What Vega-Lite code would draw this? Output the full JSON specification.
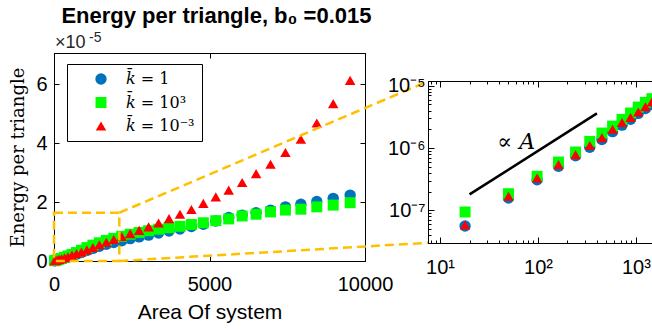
{
  "$schema": "https://vega.github.io/schema/vega-lite/v6.json",
  "autosize": {"type": "pad"},
  "padding": {"left": 9, "top": 4, "right": 0, "bottom": 0},
  "background": "white",
  "title": {"text": "Energy per triangle, b₀ =0.015", "font": "Liberation Sans", "fontSize": 22, "fontWeight": "bold", "anchor": "start", "dx": 52, "color": "black", "offset": 3},
  "config": {
    "font": "Liberation Sans",
    "view": {"stroke": "black", "strokeWidth": 1},
    "axis": {"grid": false, "domainColor": "black", "tickColor": "black", "labelColor": "black", "titleColor": "black", "labelFont": "Liberation Sans", "labelFontSize": 20, "tickSize": -5, "titleFontWeight": "normal", "labelFlush": false, "labelOverlap": false}
  },
  "datasets": {
    "pts": [
      {"A": 18, "E": 0.0056, "s": "𝑘̄ = 1"}, {"A": 50, "E": 0.0158, "s": "𝑘̄ = 1"}, {"A": 98, "E": 0.031, "s": "𝑘̄ = 1"}, {"A": 162, "E": 0.051, "s": "𝑘̄ = 1"}, {"A": 242, "E": 0.075, "s": "𝑘̄ = 1"}, {"A": 338, "E": 0.103, "s": "𝑘̄ = 1"}, {"A": 450, "E": 0.137, "s": "𝑘̄ = 1"}, {"A": 578, "E": 0.183, "s": "𝑘̄ = 1"}, {"A": 722, "E": 0.233, "s": "𝑘̄ = 1"}, {"A": 882, "E": 0.29, "s": "𝑘̄ = 1"}, {"A": 1058, "E": 0.36, "s": "𝑘̄ = 1"}, {"A": 1250, "E": 0.43, "s": "𝑘̄ = 1"}, {"A": 1458, "E": 0.5, "s": "𝑘̄ = 1"}, {"A": 1682, "E": 0.57, "s": "𝑘̄ = 1"}, {"A": 1922, "E": 0.63, "s": "𝑘̄ = 1"}, {"A": 2178, "E": 0.69, "s": "𝑘̄ = 1"}, {"A": 2450, "E": 0.76, "s": "𝑘̄ = 1"}, {"A": 2738, "E": 0.82, "s": "𝑘̄ = 1"}, {"A": 3042, "E": 0.88, "s": "𝑘̄ = 1"}, {"A": 3362, "E": 0.95, "s": "𝑘̄ = 1"}, {"A": 3698, "E": 1.02, "s": "𝑘̄ = 1"}, {"A": 4050, "E": 1.09, "s": "𝑘̄ = 1"}, {"A": 4418, "E": 1.17, "s": "𝑘̄ = 1"}, {"A": 4802, "E": 1.25, "s": "𝑘̄ = 1"}, {"A": 5202, "E": 1.36, "s": "𝑘̄ = 1"}, {"A": 5618, "E": 1.48, "s": "𝑘̄ = 1"}, {"A": 6050, "E": 1.56, "s": "𝑘̄ = 1"}, {"A": 6498, "E": 1.64, "s": "𝑘̄ = 1"}, {"A": 6962, "E": 1.73, "s": "𝑘̄ = 1"}, {"A": 7442, "E": 1.84, "s": "𝑘̄ = 1"}, {"A": 7938, "E": 1.93, "s": "𝑘̄ = 1"}, {"A": 8450, "E": 2.02, "s": "𝑘̄ = 1"}, {"A": 8978, "E": 2.13, "s": "𝑘̄ = 1"}, {"A": 9522, "E": 2.24, "s": "𝑘̄ = 1"},
      {"A": 18, "E": 0.0094, "s": "𝑘̄ = 10³"}, {"A": 50, "E": 0.0185, "s": "𝑘̄ = 10³"}, {"A": 98, "E": 0.0352, "s": "𝑘̄ = 10³"}, {"A": 162, "E": 0.0596, "s": "𝑘̄ = 10³"}, {"A": 242, "E": 0.0863, "s": "𝑘̄ = 10³"}, {"A": 338, "E": 0.128, "s": "𝑘̄ = 10³"}, {"A": 450, "E": 0.174, "s": "𝑘̄ = 10³"}, {"A": 578, "E": 0.225, "s": "𝑘̄ = 10³"}, {"A": 722, "E": 0.288, "s": "𝑘̄ = 10³"}, {"A": 882, "E": 0.365, "s": "𝑘̄ = 10³"}, {"A": 1058, "E": 0.455, "s": "𝑘̄ = 10³"}, {"A": 1250, "E": 0.54, "s": "𝑘̄ = 10³"}, {"A": 1458, "E": 0.62, "s": "𝑘̄ = 10³"}, {"A": 1682, "E": 0.7, "s": "𝑘̄ = 10³"}, {"A": 1922, "E": 0.77, "s": "𝑘̄ = 10³"}, {"A": 2178, "E": 0.84, "s": "𝑘̄ = 10³"}, {"A": 2450, "E": 0.91, "s": "𝑘̄ = 10³"}, {"A": 2738, "E": 0.97, "s": "𝑘̄ = 10³"}, {"A": 3042, "E": 1.03, "s": "𝑘̄ = 10³"}, {"A": 3362, "E": 1.08, "s": "𝑘̄ = 10³"}, {"A": 3698, "E": 1.13, "s": "𝑘̄ = 10³"}, {"A": 4050, "E": 1.18, "s": "𝑘̄ = 10³"}, {"A": 4418, "E": 1.24, "s": "𝑘̄ = 10³"}, {"A": 4802, "E": 1.3, "s": "𝑘̄ = 10³"}, {"A": 5202, "E": 1.37, "s": "𝑘̄ = 10³"}, {"A": 5618, "E": 1.43, "s": "𝑘̄ = 10³"}, {"A": 6050, "E": 1.53, "s": "𝑘̄ = 10³"}, {"A": 6498, "E": 1.59, "s": "𝑘̄ = 10³"}, {"A": 6962, "E": 1.67, "s": "𝑘̄ = 10³"}, {"A": 7442, "E": 1.73, "s": "𝑘̄ = 10³"}, {"A": 7938, "E": 1.76, "s": "𝑘̄ = 10³"}, {"A": 8450, "E": 1.84, "s": "𝑘̄ = 10³"}, {"A": 8978, "E": 1.9, "s": "𝑘̄ = 10³"}, {"A": 9522, "E": 1.98, "s": "𝑘̄ = 10³"},
      {"A": 18, "E": 0.0058, "s": "𝑘̄ = 10⁻³"}, {"A": 50, "E": 0.0168, "s": "𝑘̄ = 10⁻³"}, {"A": 98, "E": 0.033, "s": "𝑘̄ = 10⁻³"}, {"A": 162, "E": 0.0542, "s": "𝑘̄ = 10⁻³"}, {"A": 242, "E": 0.0783, "s": "𝑘̄ = 10⁻³"}, {"A": 338, "E": 0.11, "s": "𝑘̄ = 10⁻³"}, {"A": 450, "E": 0.147, "s": "𝑘̄ = 10⁻³"}, {"A": 578, "E": 0.2, "s": "𝑘̄ = 10⁻³"}, {"A": 722, "E": 0.256, "s": "𝑘̄ = 10⁻³"}, {"A": 882, "E": 0.308, "s": "𝑘̄ = 10⁻³"}, {"A": 1058, "E": 0.378, "s": "𝑘̄ = 10⁻³"}, {"A": 1250, "E": 0.46, "s": "𝑘̄ = 10⁻³"}, {"A": 1458, "E": 0.55, "s": "𝑘̄ = 10⁻³"}, {"A": 1682, "E": 0.64, "s": "𝑘̄ = 10⁻³"}, {"A": 1922, "E": 0.73, "s": "𝑘̄ = 10⁻³"}, {"A": 2178, "E": 0.83, "s": "𝑘̄ = 10⁻³"}, {"A": 2450, "E": 0.93, "s": "𝑘̄ = 10⁻³"}, {"A": 2738, "E": 1.04, "s": "𝑘̄ = 10⁻³"}, {"A": 3042, "E": 1.16, "s": "𝑘̄ = 10⁻³"}, {"A": 3362, "E": 1.29, "s": "𝑘̄ = 10⁻³"}, {"A": 3698, "E": 1.44, "s": "𝑘̄ = 10⁻³"}, {"A": 4050, "E": 1.59, "s": "𝑘̄ = 10⁻³"}, {"A": 4418, "E": 1.75, "s": "𝑘̄ = 10⁻³"}, {"A": 4802, "E": 1.96, "s": "𝑘̄ = 10⁻³"}, {"A": 5202, "E": 2.18, "s": "𝑘̄ = 10⁻³"}, {"A": 5618, "E": 2.41, "s": "𝑘̄ = 10⁻³"}, {"A": 6050, "E": 2.67, "s": "𝑘̄ = 10⁻³"}, {"A": 6498, "E": 2.97, "s": "𝑘̄ = 10⁻³"}, {"A": 6962, "E": 3.29, "s": "𝑘̄ = 10⁻³"}, {"A": 7442, "E": 3.69, "s": "𝑘̄ = 10⁻³"}, {"A": 7938, "E": 4.14, "s": "𝑘̄ = 10⁻³"}, {"A": 8450, "E": 4.69, "s": "𝑘̄ = 10⁻³"}, {"A": 8978, "E": 5.35, "s": "𝑘̄ = 10⁻³"}, {"A": 9522, "E": 6.14, "s": "𝑘̄ = 10⁻³"}
    ],
    "conn": [
      {"A": 2100, "E": 1.64, "A2": 12026, "E2": 6.11},
      {"A": 2100, "E": 0, "A2": 12026, "E2": 0.62}
    ],
    "mult": [
      {"A": 0, "E": 7.07, "t": "×10", "p": "-5"}
    ]
  },
  "resolve": {"scale": {"x": "independent", "y": "independent", "color": "shared", "shape": "shared", "size": "shared"}},
  "bounds": "flush",
  "spacing": 63,
  "hconcat": [
    {
      "width": 311,
      "height": 208,
      "layer": [
        {
          "data": {"name": "pts"},
          "mark": {"type": "point", "filled": true, "opacity": 1, "strokeWidth": 0},
          "encoding": {
            "x": {"field": "A", "type": "quantitative", "scale": {"domain": [0, 10000], "nice": false, "zero": false},
                  "axis": {"values": [0, 5000, 10000], "format": "d", "title": "Area Of system", "titleFontSize": 21, "titleFont": "Liberation Sans", "labelPadding": 18, "titlePadding": 7}},
            "y": {"field": "E", "type": "quantitative", "scale": {"domain": [0, 7.07], "nice": false},
                  "axis": {"values": [0, 2, 4, 6], "title": "Energy per triangle", "titleFont": "DejaVu Serif", "titleFontSize": 18, "labelPadding": 12, "titlePadding": 8}},
            "color": {"field": "s", "type": "nominal",
                      "scale": {"domain": ["𝑘̄ = 1", "𝑘̄ = 10³", "𝑘̄ = 10⁻³"], "range": ["#0072BD", "#00FF00", "#FF0000"]},
                      "legend": {"orient": "none", "legendX": 13, "legendY": 11, "title": null, "strokeColor": "black", "fillColor": "white", "padding": 7, "labelFont": "DejaVu Serif", "labelFontSize": 16, "labelColor": "black", "symbolOffset": 19, "labelOffset": 17, "rowPadding": 7.5, "symbolStrokeWidth": 0}},
            "shape": {"field": "s", "type": "nominal", "scale": {"domain": ["𝑘̄ = 1", "𝑘̄ = 10³", "𝑘̄ = 10⁻³"], "range": ["circle", "square", "triangle-up"]}},
            "size": {"field": "s", "type": "nominal", "scale": {"domain": ["𝑘̄ = 1", "𝑘̄ = 10³", "𝑘̄ = 10⁻³"], "range": [130, 110, 185]}}
          }
        },
        {
          "data": {"name": "pts"},
          "mark": {"type": "point", "opacity": 0},
          "encoding": {
            "x": {"field": "A", "type": "quantitative", "scale": {"domain": [0, 10000], "nice": false, "zero": false},
                  "axis": {"orient": "top", "values": [0, 5000, 10000], "labels": false, "title": null}},
            "y": {"field": "E", "type": "quantitative", "scale": {"domain": [0, 7.07], "nice": false},
                  "axis": {"orient": "right", "values": [0, 2, 4, 6], "labels": false, "title": null}}
          }
        },
        {
          "data": {"values": [{"A": 0, "A2": 2100, "E": 0, "E2": 1.64}]},
          "mark": {"type": "rect", "fillOpacity": 0, "stroke": "#FFC000", "strokeWidth": 2.5, "strokeDash": [9, 5]},
          "encoding": {
            "x": {"field": "A", "type": "quantitative", "scale": {"domain": [0, 10000], "nice": false, "zero": false}, "axis": null},
            "x2": {"field": "A2"},
            "y": {"field": "E", "type": "quantitative", "scale": {"domain": [0, 7.07], "nice": false}, "axis": null},
            "y2": {"field": "E2"}
          }
        },
        {
          "data": {"name": "conn"},
          "mark": {"type": "rule", "stroke": "#FFC000", "strokeWidth": 2.5, "strokeDash": [9, 5]},
          "encoding": {
            "x": {"field": "A", "type": "quantitative", "scale": {"domain": [0, 10000], "nice": false, "zero": false}, "axis": null},
            "x2": {"field": "A2"},
            "y": {"field": "E", "type": "quantitative", "scale": {"domain": [0, 7.07], "nice": false}, "axis": null},
            "y2": {"field": "E2"}
          }
        },
        {
          "data": {"name": "mult"},
          "mark": {"type": "text", "align": "left", "baseline": "alphabetic", "dx": 1, "dy": -5, "fontSize": 18, "font": "Liberation Sans", "color": "#262626"},
          "encoding": {
            "x": {"field": "A", "type": "quantitative", "scale": {"domain": [0, 10000], "nice": false, "zero": false}, "axis": null},
            "y": {"field": "E", "type": "quantitative", "scale": {"domain": [0, 7.07], "nice": false}, "axis": null},
            "text": {"field": "t"}
          }
        },
        {
          "data": {"name": "mult"},
          "mark": {"type": "text", "align": "left", "baseline": "alphabetic", "dx": 35, "dy": -11, "fontSize": 14, "font": "Liberation Sans", "color": "#262626"},
          "encoding": {
            "x": {"field": "A", "type": "quantitative", "scale": {"domain": [0, 10000], "nice": false, "zero": false}, "axis": null},
            "y": {"field": "E", "type": "quantitative", "scale": {"domain": [0, 7.07], "nice": false}, "axis": null},
            "text": {"field": "p"}
          }
        }
      ],
      "resolve": {"axis": {"x": "independent", "y": "independent"}}
    },
    {
      "bounds": "flush",
      "spacing": 27,
      "vconcat": [
        {
          "width": 225,
          "height": 1,
          "view": {"stroke": null},
          "data": {"values": []},
          "mark": "point",
          "encoding": {}
        },
        {
          "width": 225,
          "height": 162,
          "layer": [
            {
              "data": {"name": "pts"},
              "mark": {"type": "point", "filled": true, "opacity": 1, "strokeWidth": 0, "clip": true},
              "encoding": {
                "x": {"field": "A", "type": "quantitative", "scale": {"type": "log", "domain": [7.53, 1496], "nice": false},
                      "axis": {"values": [8, 9, 10, 20, 30, 40, 50, 60, 70, 80, 90, 100, 200, 300, 400, 500, 600, 700, 800, 900, 1000],
                               "labelExpr": "datum.value == 10 ? '10¹' : datum.value == 100 ? '10²' : datum.value == 1000 ? '10³' : ''",
                               "tickSize": {"condition": {"test": "datum.value == 10 || datum.value == 100 || datum.value == 1000", "value": -6}, "value": -3},
                               "labelPadding": 20, "title": null}},
                "y": {"field": "E", "type": "quantitative", "scale": {"type": "log", "domain": [0.00299, 1.19], "nice": false},
                      "axis": {"values": [0.003, 0.004, 0.005, 0.006, 0.007, 0.008, 0.009, 0.01, 0.02, 0.03, 0.04, 0.05, 0.06, 0.07, 0.08, 0.09, 0.1, 0.2, 0.3, 0.4, 0.5, 0.6, 0.7, 0.8, 0.9, 1],
                               "labelExpr": "datum.value == 1 ? '10⁻⁵' : datum.value == 0.1 ? '10⁻⁶' : datum.value == 0.01 ? '10⁻⁷' : ''",
                               "tickSize": {"condition": {"test": "datum.value == 1 || datum.value == 0.1 || datum.value == 0.01", "value": -6}, "value": -3},
                               "labelPadding": 9, "title": null}},
                "color": {"field": "s", "type": "nominal", "scale": {"domain": ["𝑘̄ = 1", "𝑘̄ = 10³", "𝑘̄ = 10⁻³"], "range": ["#0072BD", "#00FF00", "#FF0000"]}},
                "shape": {"field": "s", "type": "nominal", "scale": {"domain": ["𝑘̄ = 1", "𝑘̄ = 10³", "𝑘̄ = 10⁻³"], "range": ["circle", "square", "triangle-up"]}},
                "size": {"field": "s", "type": "nominal", "scale": {"domain": ["𝑘̄ = 1", "𝑘̄ = 10³", "𝑘̄ = 10⁻³"], "range": [130, 110, 185]}}
              }
            },
            {
              "data": {"name": "pts"},
              "mark": {"type": "point", "opacity": 0},
              "encoding": {
                "x": {"field": "A", "type": "quantitative", "scale": {"type": "log", "domain": [7.53, 1496], "nice": false},
                      "axis": {"orient": "top", "values": [8, 9, 10, 20, 30, 40, 50, 60, 70, 80, 90, 100, 200, 300, 400, 500, 600, 700, 800, 900, 1000], "labels": false, "title": null,
                               "tickSize": {"condition": {"test": "datum.value == 10 || datum.value == 100 || datum.value == 1000", "value": -6}, "value": -3}}},
                "y": {"field": "E", "type": "quantitative", "scale": {"type": "log", "domain": [0.00299, 1.19], "nice": false}, "axis": null}
              }
            },
            {
              "data": {"values": [{"A": 20, "E": 0.018, "A2": 400, "E2": 0.36}]},
              "mark": {"type": "rule", "color": "black", "strokeWidth": 2.5},
              "encoding": {
                "x": {"field": "A", "type": "quantitative", "scale": {"type": "log", "domain": [7.53, 1496], "nice": false}, "axis": null},
                "x2": {"field": "A2"},
                "y": {"field": "E", "type": "quantitative", "scale": {"type": "log", "domain": [0.00299, 1.19], "nice": false}, "axis": null},
                "y2": {"field": "E2"}
              }
            },
            {
              "data": {"values": [{"A": 60, "E": 0.125, "t": "∝ 𝐴"}]},
              "mark": {"type": "text", "font": "DejaVu Serif", "fontSize": 22, "color": "black"},
              "encoding": {
                "x": {"field": "A", "type": "quantitative", "scale": {"type": "log", "domain": [7.53, 1496], "nice": false}, "axis": null},
                "y": {"field": "E", "type": "quantitative", "scale": {"type": "log", "domain": [0.00299, 1.19], "nice": false}, "axis": null},
                "text": {"field": "t"}
              }
            }
          ],
          "resolve": {"axis": {"x": "independent", "y": "independent"}}
        }
      ]
    }
  ]
}
